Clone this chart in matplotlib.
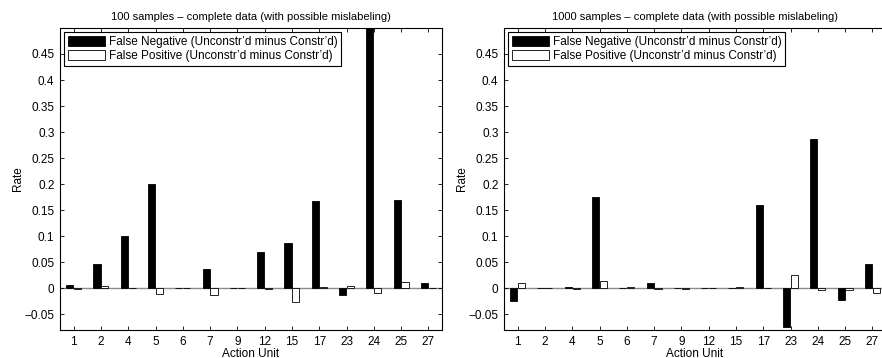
"""
Grouped bar charts: change in false negative / false positive rate
(unconstrained minus constrained) per action unit, for 100 and 1000 samples.

Output
------
out.png  (882 x 358 px)
"""

import matplotlib.pyplot as plt
import numpy as np

plt.rcParams["font.family"] = ["Liberation Sans", "DejaVu Sans"]

ACTION_UNITS = ["1", "2", "4", "5", "6", "7", "9", "12", "15", "17",
                "23", "24", "25", "27"]

# 100 samples
FN_100 = [0.006, 0.047, 0.101, 0.200, 0.001, 0.037, 0.0, 0.069, 0.088,
          0.167, -0.012, 0.52, 0.170, 0.010]
FP_100 = [-0.002, 0.004, 0.001, -0.010, 0.001, -0.012, 0.001, -0.001,
          -0.027, 0.002, 0.004, -0.008, 0.013, 0.0005]

# 1000 samples
FN_1000 = [-0.025, 0.0005, 0.002, 0.176, 0.0005, 0.010, 0.0005, 0.0005,
           0.0005, 0.160, -0.074, 0.286, -0.022, 0.047]
FP_1000 = [0.010, 0.0005, -0.002, 0.014, 0.002, -0.001, -0.001, 0.0005,
           0.002, 0.0005, 0.026, -0.003, -0.003, -0.008]

TITLES = ["100 samples \u2013 complete data (with possible mislabeling)",
          "1000 samples \u2013 complete data (with possible mislabeling)"]

YTICKS = [-0.05, 0, 0.05, 0.1, 0.15, 0.2, 0.25, 0.3, 0.35, 0.4, 0.45]
YTICK_LABELS = ["\u22120.05", "0", "0.05", "0.1", "0.15", "0.2", "0.25",
                "0.3", "0.35", "0.4", "0.45"]

LABEL_FN = "False Negative (Unconstr\u2019d minus Constr\u2019d)"
LABEL_FP = "False Positive (Unconstr\u2019d minus Constr\u2019d)"


def draw_panel(ax, fn, fp, title):
    x = np.arange(1, len(ACTION_UNITS) + 1)
    w = 0.26
    ax.bar(x - 0.145, fn, width=w, color="black", edgecolor="black",
           linewidth=0.6, label=LABEL_FN, zorder=2)
    ax.bar(x + 0.145, fp, width=w, color="white", edgecolor="black",
           linewidth=0.6, label=LABEL_FP, zorder=2)
    ax.axhline(0, color="#8c8c8c", linewidth=1.0, zorder=1)

    ax.set_xlim(0.5, len(ACTION_UNITS) + 0.5)
    ax.set_ylim(-0.08, 0.5)
    ax.set_xticks(x)
    ax.set_xticklabels(ACTION_UNITS)
    ax.set_yticks(YTICKS)
    ax.set_yticklabels(YTICK_LABELS)
    ax.tick_params(direction="in", length=3, width=0.6, labelsize=8.5,
                   top=True, right=True, pad=4)
    for sp in ax.spines.values():
        sp.set_linewidth(0.8)

    ax.set_title(title, fontsize=8, pad=6)
    ax.set_xlabel("Action Unit", fontsize=8.5, labelpad=0)
    ax.set_ylabel("Rate", fontsize=8.5, labelpad=0)

    ax.legend(loc="upper left", fontsize=8.5, frameon=True, fancybox=False,
              edgecolor="black", framealpha=1, handlelength=3.2,
              handleheight=0.95, handletextpad=0.3, borderpad=0.3,
              labelspacing=0.2, borderaxespad=0.35)
    ax.get_legend().get_frame().set_linewidth(0.8)


def main() -> None:
    fig = plt.figure(figsize=(8.82, 3.58), dpi=100)
    ax1 = fig.add_axes([60 / 882, 0.078, 382 / 882, 0.844])
    ax2 = fig.add_axes([504 / 882, 0.078, 382 / 882, 0.844])

    draw_panel(ax1, FN_100, FP_100, TITLES[0])
    draw_panel(ax2, FN_1000, FP_1000, TITLES[1])

    fig.savefig("out.png", dpi=100)
    plt.close(fig)


if __name__ == "__main__":
    main()
